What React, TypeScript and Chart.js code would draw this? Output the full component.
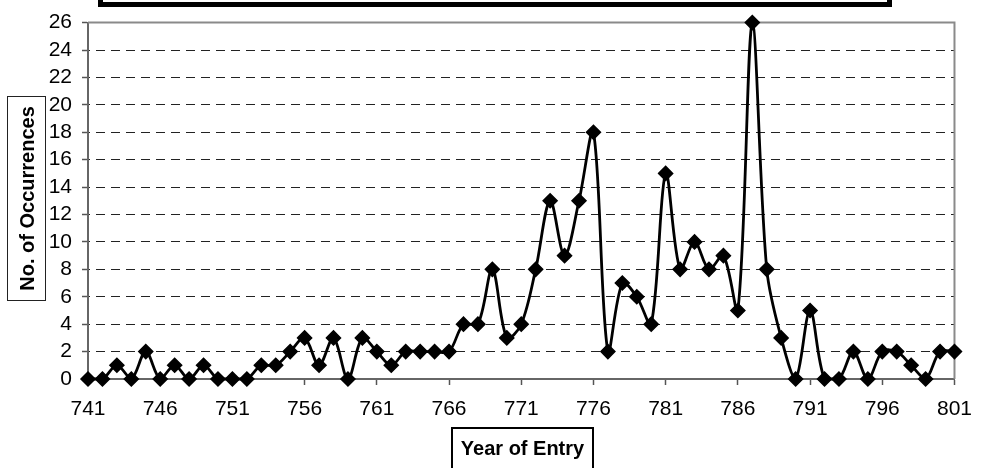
import React, { useEffect, useRef } from 'react';
import { Chart, registerables } from 'chart.js';

Chart.register(...registerables);

const years = [
  741, 742, 743, 744, 745, 746, 747, 748, 749, 750,
  751, 752, 753, 754, 755, 756, 757, 758, 759, 760,
  761, 762, 763, 764, 765, 766, 767, 768, 769, 770,
  771, 772, 773, 774, 775, 776, 777, 778, 779, 780,
  781, 782, 783, 784, 785, 786, 787, 788, 789, 790,
  791, 792, 793, 794, 795, 796, 797, 798, 799, 800, 801,
];

const occurrences = [
  0, 0, 1, 0, 2, 0, 1, 0, 1, 0,
  0, 0, 1, 1, 2, 3, 1, 3, 0, 3,
  2, 1, 2, 2, 2, 2, 4, 4, 8, 3,
  4, 8, 13, 9, 13, 18, 2, 7, 6, 4,
  15, 8, 10, 8, 9, 5, 26, 8, 3, 0,
  5, 0, 0, 2, 0, 2, 2, 1, 0, 2, 2,
];

const xTickLabels = [741, 746, 751, 756, 761, 766, 771, 776, 781, 786, 791, 796, 801];
const yMin = 0;
const yMax = 26;
const yStep = 2;

const yTitle = 'No. of Occurrences';
const xTitle = 'Year of Entry';

const FONT = '"Liberation Sans", Arial, Helvetica, sans-serif';

const decorPlugin = {
  id: 'decor',
  beforeDatasetsDraw(chart: any) {
    const ctx = chart.ctx as CanvasRenderingContext2D;
    const a = chart.chartArea;
    ctx.save();
    ctx.strokeStyle = '#8a8a8a';
    ctx.lineWidth = 2;
    ctx.beginPath();
    ctx.moveTo(a.left, a.top);
    ctx.lineTo(a.right, a.top);
    ctx.lineTo(a.right, a.bottom);
    ctx.stroke();
    ctx.restore();
  },
  afterDraw(chart: any) {
    const ctx = chart.ctx as CanvasRenderingContext2D;
    ctx.save();
    ctx.strokeStyle = '#000';
    ctx.lineWidth = 5;
    ctx.strokeRect(100.5, -60, 789, 64.5);

    ctx.lineWidth = 1;
    ctx.strokeStyle = '#222';
    ctx.strokeRect(7.5, 96.5, 38, 204);
    ctx.save();
    ctx.translate(27, 198.5);
    ctx.rotate(-Math.PI / 2);
    ctx.fillStyle = '#000';
    ctx.font = `bold 20px ${FONT}`;
    ctx.textAlign = 'center';
    ctx.textBaseline = 'middle';
    ctx.fillText(yTitle, 0, 1);
    ctx.restore();

    ctx.lineWidth = 2;
    ctx.strokeStyle = '#000';
    ctx.strokeRect(452, 428, 141, 60);
    ctx.fillStyle = '#000';
    ctx.font = `bold 20px ${FONT}`;
    ctx.textAlign = 'center';
    ctx.textBaseline = 'middle';
    ctx.fillText(xTitle, 522.5, 449);
    ctx.restore();
  },
};

export default function App() {
  const ref = useRef<HTMLCanvasElement | null>(null);

  useEffect(() => {
    if (!ref.current) return;
    const chart = new Chart(ref.current, {
      type: 'line',
      data: {
        datasets: [
          {
            data: years.map((y, i) => ({ x: y, y: occurrences[i] })),
            borderColor: '#000',
            backgroundColor: '#000',
            borderWidth: 2.8,
            tension: 0.33,
            clip: false,
            pointStyle: 'rectRot',
            pointRadius: 7,
            pointBorderWidth: 1.5,
            pointBorderColor: '#000',
            pointBackgroundColor: '#000',
            fill: false,
          },
        ],
      },
      options: {
        responsive: false,
        animation: false,
        events: [],
        layout: { padding: { top: 19, right: 21, left: 0, bottom: 0 } },
        plugins: {
          legend: { display: false },
          tooltip: { enabled: false },
          title: { display: false },
        },
        scales: {
          x: {
            type: 'linear',
            min: years[0],
            max: years[years.length - 1],
            afterBuildTicks: (scale: any) => {
              scale.ticks = xTickLabels.map((v) => ({ value: v }));
            },
            afterFit: (scale: any) => {
              scale.height = 89;
            },
            grid: {
              drawOnChartArea: false,
              drawTicks: true,
              tickLength: 6,
              tickColor: '#555',
              tickWidth: 1.5,
            },
            border: { display: true, color: '#666', width: 2 },
            ticks: {
              autoSkip: false,
              maxRotation: 0,
              padding: 12,
              color: '#000',
              font: { family: FONT, size: 21 },
              callback: (v: any) => String(v),
            },
          },
          y: {
            min: yMin,
            max: yMax,
            afterFit: (scale: any) => {
              scale.width = 88;
            },
            grid: {
              color: (c: any) =>
                c.tick && (c.tick.value === yMin || c.tick.value === yMax) ? 'rgba(0,0,0,0)' : '#222',
              lineWidth: 1,
              drawTicks: true,
              tickLength: 6,
              tickColor: '#555',
              tickWidth: 1.5,
            },
            border: { display: true, color: '#666', width: 2, dash: [9, 6], dashOffset: -7 },
            ticks: {
              stepSize: yStep,
              autoSkip: false,
              padding: 10,
              color: '#000',
              font: { family: FONT, size: 21 },
            },
          },
        },
      },
      plugins: [decorPlugin],
    } as any);
    return () => chart.destroy();
  }, []);

  return (
    <div style={{ position: 'fixed', left: 0, top: 0, width: 984, height: 468, background: '#fff' }}>
      <canvas ref={ref} width={984} height={468} style={{ display: 'block' }} />
    </div>
  );
}
